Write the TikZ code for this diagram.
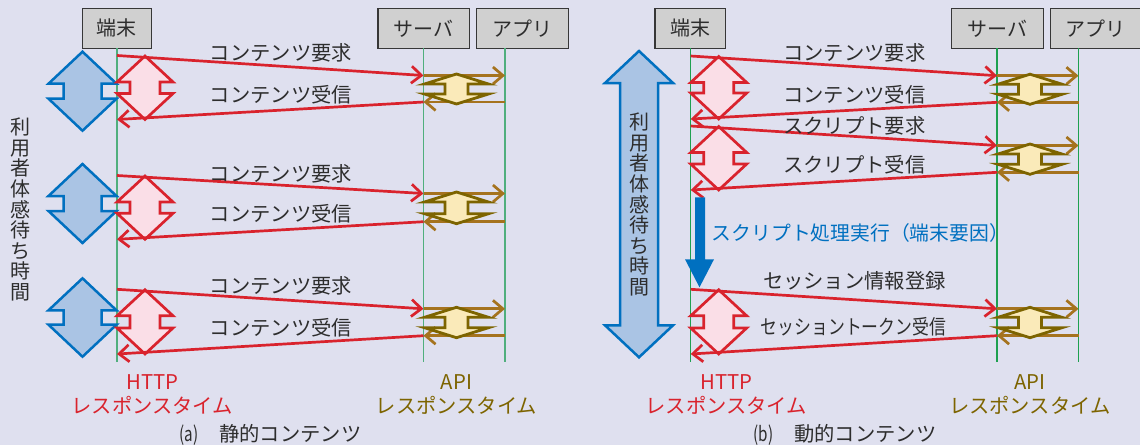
\documentclass[tikz,border=0pt]{standalone}
\usepackage{fontspec}
\usepackage{graphicx}
\setmainfont{Noto Sans CJK JP}
\usetikzlibrary{arrows.meta}
\definecolor{bg}{RGB}{223,224,239}
\definecolor{boxfill}{RGB}{208,208,208}
\definecolor{boxdraw}{RGB}{55,55,55}
\definecolor{txt}{RGB}{45,45,45}
\definecolor{redA}{RGB}{217,35,45}
\definecolor{pinkF}{RGB}{250,222,231}
\definecolor{blueA}{RGB}{0,112,192}
\definecolor{blueF}{RGB}{170,196,228}
\definecolor{brownA}{RGB}{165,115,30}
\definecolor{oliveA}{RGB}{125,100,0}
\definecolor{yellowF}{RGB}{250,234,185}
\definecolor{lifeA}{RGB}{80,175,125}
\definecolor{lifeB}{RGB}{30,160,80}

\tikzset{
  every node/.style={inner sep=0pt, outer sep=0pt},
  jp/.style={font=\fontsize{20.3}{24}\selectfont, text=txt},
  actor/.style={draw=boxdraw, fill=boxfill, line width=1.3pt, minimum height=40pt,
                font=\fontsize{20}{24}\selectfont, text=txt},
  lifelineA/.style={draw=lifeA, line width=1.5pt},
  lifelineB/.style={draw=lifeB, line width=1.1pt},
  redarr/.style={draw=redA, line width=2.7pt, -{Straight Barb[length=10pt,width=17pt]}},
  brownarr/.style={draw=brownA, line width=2.7pt, -{Straight Barb[length=10pt,width=17pt]}},
  pinkarr/.style={draw=redA, fill=pinkF, line width=2.7pt},
  yelarr/.style={draw=oliveA, fill=yellowF, line width=2.8pt},
  bluearr/.style={draw=blueA, fill=blueF, line width=2.5pt},
  vtext/.style={align=center, font=\fontsize{20}{20.6}\selectfont, text=txt},
}

% style, cx, top, bottom, half width, shaft half width, head length
\newcommand\DblArr[7]{%
  \draw[#1] (#2,#3) -- (#2-#5,#3+#7) -- (#2-#6,#3+#7) -- (#2-#6,#4-#7)
    -- (#2-#5,#4-#7) -- (#2,#4) -- (#2+#5,#4-#7) -- (#2+#6,#4-#7)
    -- (#2+#6,#3+#7) -- (#2+#5,#3+#7) -- cycle;}

% prefix, xT, xS, xA, reqStartY, reqEndY, respStartY, respEndY
\newcommand\Grp[8]{%
  \coordinate (#1rq) at (#2,#5);
  \coordinate (#1rQ) at (#3,#6);
  \coordinate (#1sS) at (#3,#7);
  \coordinate (#1sT) at (#2,#8);
  \coordinate (#1bS) at (#3,#6);
  \coordinate (#1bA) at (#4,#6);
  \coordinate (#1cA) at (#4,#7);
  \coordinate (#1cS) at (#3,#7);
  \DblArr{pinkarr}{#2+28}{#5+0.5}{#8}{28}{15}{26}
  \draw[brownarr] (#1bS) -- (#1bA);
  \draw[brownarr] (#1cA) -- (#1cS);
  \DblArr{yelarr}{#3+33}{#6-1.5}{#7+2}{32}{11.5}{10}
  \draw[redarr] (#1rq) -- (#1rQ);
  \draw[redarr] (#1sS) -- (#1sT);
}

\begin{document}
\begin{tikzpicture}[x=1pt,y=-1pt]
\useasboundingbox (0,0) rectangle (1140,445);
\fill[bg] (0,0) rectangle (1140,445);
\begin{scope}
\clip (0,0) rectangle (1140,445);

% ---------------- panel (a) ----------------
\node[actor, minimum width=69.3pt] (ta) at (116.8,28.3) {端末};
\node[actor, minimum width=91.3pt] (sa) at (423.7,28.3) {サーバ};
\node[actor, minimum width=91.6pt] (aa) at (522.5,28.3) {アプリ};
\coordinate (taE) at (117,362.3);
\coordinate (saE) at (423.5,362.3);
\coordinate (aaE) at (505,362.3);
\draw[lifelineA] (taE |- 0,48.3) -- (taE);
\draw[lifelineA] (saE |- 0,48.3) -- (saE);
\draw[lifelineA] (aaE |- 0,48.3) -- (aaE);

\DblArr{bluearr}{82.5}{51.7}{130.7}{34}{19}{32}
\DblArr{bluearr}{82.5}{164}{243}{34}{19}{32}
\DblArr{bluearr}{82.5}{278.3}{356.7}{34}{19}{32}

\Grp{a1}{117}{423.5}{505}{55.5}{75.5}{102}{119.5}
\Grp{a2}{117}{423.5}{505}{175.5}{193.5}{221.7}{239.3}
\Grp{a3}{117}{423.5}{505}{289.3}{308.8}{335.7}{354}

\node[jp] (a1t) at (281,53) {コンテンツ要求};
\node[jp] (a1u) at (281,94.5) {コンテンツ受信};
\node[jp] (a2t) at (281,173.5) {コンテンツ要求};
\node[jp] (a2u) at (281,214) {コンテンツ受信};
\node[jp] (a3t) at (281,286) {コンテンツ要求};
\node[jp] (a3u) at (281,328) {コンテンツ受信};

\node[vtext] (av) at (20,209.5) {利\\用\\者\\体\\感\\待\\ち\\時\\間};

\node[jp, text=redA, align=center] (ah) at (152.3,394.6) {HTTP\\レスポンスタイム};
\node[jp, text=oliveA, align=center] (ap) at (456.5,394.6) {API\\レスポンスタイム};
\node[jp] (acap) at (270.5,434.5) {\scalebox{0.75}[1]{(a)}\hspace{21pt}静的コンテンツ};

% ---------------- panel (b) ----------------
\node[actor, minimum width=70.7pt] (tb) at (690.4,28.3) {端末};
\node[actor, minimum width=91.9pt] (sb) at (997.3,28.3) {サーバ};
\node[actor, minimum width=90.3pt] (ab) at (1095.9,28.3) {アプリ};
\coordinate (tbE) at (690.7,362.3);
\coordinate (sbE) at (997,362.3);
\coordinate (abE) at (1078.5,362.3);
\draw[lifelineB] (tbE |- 0,48.3) -- (tbE);
\draw[lifelineB] (sbE |- 0,48.3) -- (sbE);
\draw[lifelineB] (abE |- 0,48.3) -- (abE);

\DblArr{bluearr}{639}{51}{357.3}{34}{19}{32}
\node[vtext] (bv) at (639,204.5) {利\\用\\者\\体\\感\\待\\ち\\時\\間};

\Grp{b1}{690.7}{997}{1078.5}{56}{75.7}{102.3}{119}
\Grp{b2}{690.7}{997}{1078.5}{126}{145.5}{172.3}{190}
\Grp{b3}{690.7}{997}{1078.5}{289.3}{308.8}{335.7}{354}

\node[jp] (b1t) at (854.4,53) {コンテンツ要求};
\node[jp] (b1u) at (854.4,94.5) {コンテンツ受信};
\node[jp] (b2t) at (854.4,126) {スクリプト要求};
\node[jp] (b2u) at (854.4,165) {スクリプト受信};
\node[jp] (b3t) at (854.4,280.5) {セッション情報登録};
\node[jp] (b3u) at (853.5,327) {\scalebox{0.83}[1]{セッショントークン受信}};

% script processing arrow
\fill[blueA] (695,197.3) -- (705,197.3) -- (705,259.3) -- (714,259.3)
  -- (699.5,287.3) -- (685,259.3) -- (695,259.3) -- cycle;
\node[jp, text=blueA, font=\fontsize{19.8}{24}\selectfont] (bsp) at (860.3,233) {スクリプト処理実行（端末要因）};

\node[jp, text=redA, align=center] (bh) at (726.3,394.6) {HTTP\\レスポンスタイム};
\node[jp, text=oliveA, align=center] (bp) at (1029.8,394.6) {API\\レスポンスタイム};
\node[jp] (bcap) at (845,434.5) {\scalebox{0.75}[1]{(b)}\hspace{21pt}動的コンテンツ};
\end{scope}
\end{tikzpicture}
\end{document}
